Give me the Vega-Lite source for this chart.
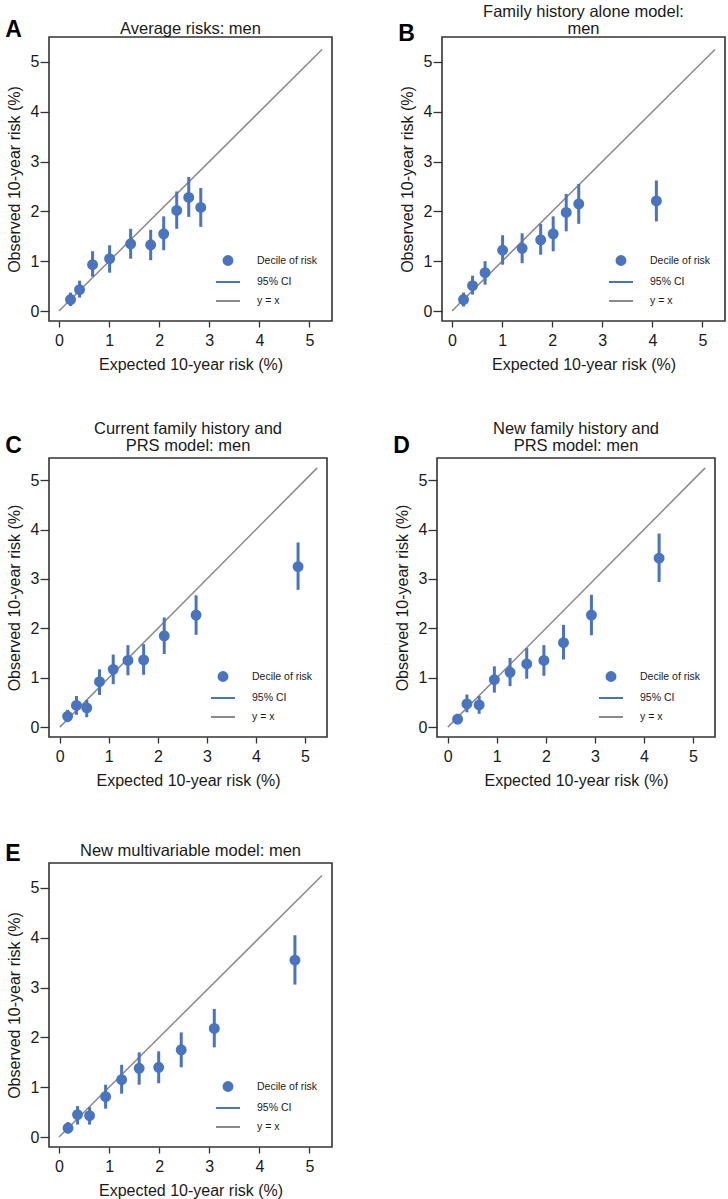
{
  "$schema": "https://vega.github.io/schema/vega-lite/v6.json",
  "padding": {"left": 5, "top": 2, "right": 0, "bottom": 0},
  "background": "white",
  "config": {
    "font": "Liberation Sans",
    "view": {"stroke": "#333333", "strokeWidth": 1.6},
    "title": {"fontSize": 16.5, "fontWeight": "normal", "color": "#1a1a1a", "offset": 4, "lineHeight": 17},
    "axis": {"labelFontSize": 16, "titleFontSize": 16, "labelColor": "#1a1a1a", "titleColor": "#1a1a1a", "titleFontWeight": "normal", "tickColor": "#333333", "tickWidth": 1.3, "domain": false, "grid": false, "format": "d"},
    "axisY": {"labelAngle": 0, "tickSize": 9, "labelPadding": 1, "titlePadding": 8},
    "axisX": {"tickSize": 6, "labelPadding": 5, "titlePadding": 8},
    "legend": {"orient": "bottom-right", "title": null, "labelFontSize": 10.5, "labelColor": "#1a1a1a", "symbolStrokeWidth": 2, "rowPadding": -3, "labelOffset": 16, "padding": 0, "offset": 14}
  },
  "datasets": {
    "deciles": [
      {"panel": "A", "expected": 0.23, "observed": 0.23, "lo": 0.10, "hi": 0.37},
      {"panel": "A", "expected": 0.41, "observed": 0.43, "lo": 0.27, "hi": 0.61},
      {"panel": "A", "expected": 0.67, "observed": 0.93, "lo": 0.69, "hi": 1.20},
      {"panel": "A", "expected": 1.01, "observed": 1.05, "lo": 0.77, "hi": 1.32},
      {"panel": "A", "expected": 1.43, "observed": 1.35, "lo": 1.05, "hi": 1.65},
      {"panel": "A", "expected": 1.83, "observed": 1.33, "lo": 1.02, "hi": 1.63},
      {"panel": "A", "expected": 2.09, "observed": 1.55, "lo": 1.22, "hi": 1.90},
      {"panel": "A", "expected": 2.35, "observed": 2.02, "lo": 1.65, "hi": 2.40},
      {"panel": "A", "expected": 2.59, "observed": 2.28, "lo": 1.89, "hi": 2.69},
      {"panel": "A", "expected": 2.83, "observed": 2.08, "lo": 1.69, "hi": 2.47},
      {"panel": "B", "expected": 0.23, "observed": 0.23, "lo": 0.09, "hi": 0.37},
      {"panel": "B", "expected": 0.41, "observed": 0.51, "lo": 0.33, "hi": 0.71},
      {"panel": "B", "expected": 0.66, "observed": 0.77, "lo": 0.53, "hi": 1.00},
      {"panel": "B", "expected": 1.01, "observed": 1.22, "lo": 0.93, "hi": 1.52},
      {"panel": "B", "expected": 1.40, "observed": 1.26, "lo": 0.96, "hi": 1.56},
      {"panel": "B", "expected": 1.77, "observed": 1.43, "lo": 1.13, "hi": 1.75},
      {"panel": "B", "expected": 2.02, "observed": 1.55, "lo": 1.20, "hi": 1.90},
      {"panel": "B", "expected": 2.28, "observed": 1.98, "lo": 1.60, "hi": 2.35},
      {"panel": "B", "expected": 2.53, "observed": 2.15, "lo": 1.75, "hi": 2.55},
      {"panel": "B", "expected": 4.08, "observed": 2.21, "lo": 1.80, "hi": 2.62},
      {"panel": "C", "expected": 0.16, "observed": 0.22, "lo": 0.10, "hi": 0.35},
      {"panel": "C", "expected": 0.34, "observed": 0.44, "lo": 0.25, "hi": 0.63},
      {"panel": "C", "expected": 0.55, "observed": 0.39, "lo": 0.20, "hi": 0.55},
      {"panel": "C", "expected": 0.81, "observed": 0.92, "lo": 0.65, "hi": 1.17},
      {"panel": "C", "expected": 1.09, "observed": 1.17, "lo": 0.87, "hi": 1.47},
      {"panel": "C", "expected": 1.39, "observed": 1.35, "lo": 1.05, "hi": 1.66},
      {"panel": "C", "expected": 1.71, "observed": 1.36, "lo": 1.06, "hi": 1.68},
      {"panel": "C", "expected": 2.13, "observed": 1.85, "lo": 1.48, "hi": 2.22},
      {"panel": "C", "expected": 2.78, "observed": 2.27, "lo": 1.87, "hi": 2.67},
      {"panel": "C", "expected": 4.86, "observed": 3.25, "lo": 2.78, "hi": 3.74},
      {"panel": "D", "expected": 0.20, "observed": 0.16, "lo": 0.07, "hi": 0.27},
      {"panel": "D", "expected": 0.39, "observed": 0.47, "lo": 0.30, "hi": 0.66},
      {"panel": "D", "expected": 0.64, "observed": 0.45, "lo": 0.27, "hi": 0.63},
      {"panel": "D", "expected": 0.95, "observed": 0.96, "lo": 0.70, "hi": 1.23},
      {"panel": "D", "expected": 1.27, "observed": 1.11, "lo": 0.83, "hi": 1.40},
      {"panel": "D", "expected": 1.61, "observed": 1.28, "lo": 0.98, "hi": 1.60},
      {"panel": "D", "expected": 1.96, "observed": 1.35, "lo": 1.04, "hi": 1.66},
      {"panel": "D", "expected": 2.36, "observed": 1.71, "lo": 1.37, "hi": 2.07},
      {"panel": "D", "expected": 2.93, "observed": 2.27, "lo": 1.86, "hi": 2.68},
      {"panel": "D", "expected": 4.31, "observed": 3.42, "lo": 2.94, "hi": 3.92},
      {"panel": "E", "expected": 0.18, "observed": 0.18, "lo": 0.07, "hi": 0.30},
      {"panel": "E", "expected": 0.37, "observed": 0.45, "lo": 0.25, "hi": 0.62},
      {"panel": "E", "expected": 0.61, "observed": 0.43, "lo": 0.25, "hi": 0.60},
      {"panel": "E", "expected": 0.93, "observed": 0.81, "lo": 0.57, "hi": 1.05},
      {"panel": "E", "expected": 1.25, "observed": 1.15, "lo": 0.87, "hi": 1.45},
      {"panel": "E", "expected": 1.60, "observed": 1.38, "lo": 1.05, "hi": 1.70},
      {"panel": "E", "expected": 1.99, "observed": 1.40, "lo": 1.08, "hi": 1.72},
      {"panel": "E", "expected": 2.44, "observed": 1.75, "lo": 1.40, "hi": 2.10},
      {"panel": "E", "expected": 3.10, "observed": 2.18, "lo": 1.80, "hi": 2.57},
      {"panel": "E", "expected": 4.71, "observed": 3.55, "lo": 3.06, "hi": 4.05}
    ],
    "diagonal": [{"v": 0}, {"v": 5.25}]
  },
  "resolve": {"scale": {"fill": "independent", "stroke": "independent", "shape": "independent", "size": "independent"}, "legend": {"fill": "independent", "stroke": "independent", "shape": "independent", "size": "independent"}},
  "spacing": 46,
  "vconcat": [
    {
      "resolve": {"scale": {"fill": "independent", "stroke": "independent", "shape": "independent", "size": "independent"}, "legend": {"fill": "independent", "stroke": "independent", "shape": "independent", "size": "independent"}},
      "spacing": 65,
      "hconcat": [
        {
          "title": {"text": "A", "anchor": "start", "frame": "bounds", "fontSize": 23, "fontWeight": "bold", "color": "#000000", "baseline": "bottom", "offset": 0, "dy": 45},
          "resolve": {"scale": {"fill": "independent", "stroke": "independent", "shape": "independent", "size": "independent"}, "legend": {"fill": "independent", "stroke": "independent", "shape": "independent", "size": "independent"}},
          "vconcat": [
            {
              "title": {"text": "Average risks: men", "offset": 0},
              "width": 283, "height": 284,
              "layer": [
                {"data": {"name": "diagonal"}, "mark": {"type": "line", "color": "#8a8a8a", "strokeWidth": 1.5},
                 "encoding": {"x": {"field": "v", "type": "quantitative"}, "y": {"field": "v", "type": "quantitative"}}},
                {"data": {"name": "deciles"}, "transform": [{"filter": "datum.panel === 'A'"}],
                 "mark": {"type": "rule", "color": "#4874c0", "strokeWidth": 3},
                 "encoding": {
                   "x": {"field": "expected", "type": "quantitative", "scale": {"domain": [-0.2, 5.45], "nice": false, "zero": false}, "axis": {"values": [0, 1, 2, 3, 4, 5], "title": "Expected 10-year risk (%)"}},
                   "y": {"field": "lo", "type": "quantitative", "scale": {"domain": [-0.2, 5.5], "nice": false, "zero": false}, "axis": {"values": [0, 1, 2, 3, 4, 5], "title": "Observed 10-year risk (%)"}},
                   "y2": {"field": "hi"}}},
                {"data": {"name": "deciles"}, "transform": [{"filter": "datum.panel === 'A'"}],
                 "mark": {"type": "point", "filled": true, "opacity": 1, "strokeWidth": 2},
                 "encoding": {
                   "x": {"field": "expected", "type": "quantitative"},
                   "y": {"field": "observed", "type": "quantitative"},
                   "fill": {"datum": "Decile of risk", "type": "nominal", "scale": {"domain": ["Decile of risk", "95% CI", "y = x"], "range": ["#4874c0", "transparent", "transparent"]}},
                   "stroke": {"datum": "Decile of risk", "type": "nominal", "scale": {"domain": ["Decile of risk", "95% CI", "y = x"], "range": ["#4874c0", "#4874c0", "#8a8a8a"]}},
                   "shape": {"datum": "Decile of risk", "type": "nominal", "scale": {"domain": ["Decile of risk", "95% CI", "y = x"], "range": ["circle", "stroke", "stroke"]}},
                   "size": {"datum": "Decile of risk", "type": "nominal", "scale": {"type": "ordinal", "domain": ["Decile of risk", "95% CI", "y = x"], "range": [80, 576, 576]}}}}
              ]
            }
          ]
        },
        {
          "title": {"text": "B", "anchor": "start", "frame": "bounds", "fontSize": 23, "fontWeight": "bold", "color": "#000000", "baseline": "bottom", "offset": 0, "dy": 66},
          "resolve": {"scale": {"fill": "independent", "stroke": "independent", "shape": "independent", "size": "independent"}, "legend": {"fill": "independent", "stroke": "independent", "shape": "independent", "size": "independent"}},
          "vconcat": [
            {
              "title": {"text": ["Family history alone model:", "men"], "offset": 0},
              "width": 283, "height": 284,
              "layer": [
                {"data": {"name": "diagonal"}, "mark": {"type": "line", "color": "#8a8a8a", "strokeWidth": 1.5},
                 "encoding": {"x": {"field": "v", "type": "quantitative"}, "y": {"field": "v", "type": "quantitative"}}},
                {"data": {"name": "deciles"}, "transform": [{"filter": "datum.panel === 'B'"}],
                 "mark": {"type": "rule", "color": "#4874c0", "strokeWidth": 3},
                 "encoding": {
                   "x": {"field": "expected", "type": "quantitative", "scale": {"domain": [-0.2, 5.45], "nice": false, "zero": false}, "axis": {"values": [0, 1, 2, 3, 4, 5], "title": "Expected 10-year risk (%)"}},
                   "y": {"field": "lo", "type": "quantitative", "scale": {"domain": [-0.2, 5.5], "nice": false, "zero": false}, "axis": {"values": [0, 1, 2, 3, 4, 5], "title": "Observed 10-year risk (%)"}},
                   "y2": {"field": "hi"}}},
                {"data": {"name": "deciles"}, "transform": [{"filter": "datum.panel === 'B'"}],
                 "mark": {"type": "point", "filled": true, "opacity": 1, "strokeWidth": 2},
                 "encoding": {
                   "x": {"field": "expected", "type": "quantitative"},
                   "y": {"field": "observed", "type": "quantitative"},
                   "fill": {"datum": "Decile of risk", "type": "nominal", "scale": {"domain": ["Decile of risk", "95% CI", "y = x"], "range": ["#4874c0", "transparent", "transparent"]}},
                   "stroke": {"datum": "Decile of risk", "type": "nominal", "scale": {"domain": ["Decile of risk", "95% CI", "y = x"], "range": ["#4874c0", "#4874c0", "#8a8a8a"]}},
                   "shape": {"datum": "Decile of risk", "type": "nominal", "scale": {"domain": ["Decile of risk", "95% CI", "y = x"], "range": ["circle", "stroke", "stroke"]}},
                   "size": {"datum": "Decile of risk", "type": "nominal", "scale": {"type": "ordinal", "domain": ["Decile of risk", "95% CI", "y = x"], "range": [80, 576, 576]}}}}
              ]
            }
          ]
        }
      ]
    },
    {
      "resolve": {"scale": {"fill": "independent", "stroke": "independent", "shape": "independent", "size": "independent"}, "legend": {"fill": "independent", "stroke": "independent", "shape": "independent", "size": "independent"}},
      "spacing": 52,
      "vconcat": [
        {
          "resolve": {"scale": {"fill": "independent", "stroke": "independent", "shape": "independent", "size": "independent"}, "legend": {"fill": "independent", "stroke": "independent", "shape": "independent", "size": "independent"}},
          "spacing": 65,
          "hconcat": [
            {
              "title": {"text": "C", "anchor": "start", "frame": "bounds", "fontSize": 23, "fontWeight": "bold", "color": "#000000", "baseline": "bottom", "offset": 0, "dy": 61},
              "resolve": {"scale": {"fill": "independent", "stroke": "independent", "shape": "independent", "size": "independent"}, "legend": {"fill": "independent", "stroke": "independent", "shape": "independent", "size": "independent"}},
              "vconcat": [
                {
                  "title": {"text": ["Current family history and", "PRS model: men"]},
                  "width": 278, "height": 279,
                  "layer": [
                    {"data": {"name": "diagonal"}, "mark": {"type": "line", "color": "#8a8a8a", "strokeWidth": 1.5},
                     "encoding": {"x": {"field": "v", "type": "quantitative"}, "y": {"field": "v", "type": "quantitative"}}},
                    {"data": {"name": "deciles"}, "transform": [{"filter": "datum.panel === 'C'"}],
                     "mark": {"type": "rule", "color": "#4874c0", "strokeWidth": 3},
                     "encoding": {
                       "x": {"field": "expected", "type": "quantitative", "scale": {"domain": [-0.22, 5.45], "nice": false, "zero": false}, "axis": {"values": [0, 1, 2, 3, 4, 5], "title": "Expected 10-year risk (%)"}},
                       "y": {"field": "lo", "type": "quantitative", "scale": {"domain": [-0.2, 5.45], "nice": false, "zero": false}, "axis": {"values": [0, 1, 2, 3, 4, 5], "title": "Observed 10-year risk (%)"}},
                       "y2": {"field": "hi"}}},
                    {"data": {"name": "deciles"}, "transform": [{"filter": "datum.panel === 'C'"}],
                     "mark": {"type": "point", "filled": true, "opacity": 1, "strokeWidth": 2},
                     "encoding": {
                       "x": {"field": "expected", "type": "quantitative"},
                       "y": {"field": "observed", "type": "quantitative"},
                       "fill": {"datum": "Decile of risk", "type": "nominal", "scale": {"domain": ["Decile of risk", "95% CI", "y = x"], "range": ["#4874c0", "transparent", "transparent"]}},
                       "stroke": {"datum": "Decile of risk", "type": "nominal", "scale": {"domain": ["Decile of risk", "95% CI", "y = x"], "range": ["#4874c0", "#4874c0", "#8a8a8a"]}},
                       "shape": {"datum": "Decile of risk", "type": "nominal", "scale": {"domain": ["Decile of risk", "95% CI", "y = x"], "range": ["circle", "stroke", "stroke"]}},
                       "size": {"datum": "Decile of risk", "type": "nominal", "scale": {"type": "ordinal", "domain": ["Decile of risk", "95% CI", "y = x"], "range": [80, 576, 576]}}}}
                  ]
                }
              ]
            },
            {
              "title": {"text": "D", "anchor": "start", "frame": "bounds", "fontSize": 23, "fontWeight": "bold", "color": "#000000", "baseline": "bottom", "offset": 0, "dy": 61},
              "resolve": {"scale": {"fill": "independent", "stroke": "independent", "shape": "independent", "size": "independent"}, "legend": {"fill": "independent", "stroke": "independent", "shape": "independent", "size": "independent"}},
              "vconcat": [
                {
                  "title": {"text": ["New family history and", "PRS model: men"]},
                  "width": 278, "height": 279,
                  "layer": [
                    {"data": {"name": "diagonal"}, "mark": {"type": "line", "color": "#8a8a8a", "strokeWidth": 1.5},
                     "encoding": {"x": {"field": "v", "type": "quantitative"}, "y": {"field": "v", "type": "quantitative"}}},
                    {"data": {"name": "deciles"}, "transform": [{"filter": "datum.panel === 'D'"}],
                     "mark": {"type": "rule", "color": "#4874c0", "strokeWidth": 3},
                     "encoding": {
                       "x": {"field": "expected", "type": "quantitative", "scale": {"domain": [-0.22, 5.45], "nice": false, "zero": false}, "axis": {"values": [0, 1, 2, 3, 4, 5], "title": "Expected 10-year risk (%)"}},
                       "y": {"field": "lo", "type": "quantitative", "scale": {"domain": [-0.2, 5.45], "nice": false, "zero": false}, "axis": {"values": [0, 1, 2, 3, 4, 5], "title": "Observed 10-year risk (%)"}},
                       "y2": {"field": "hi"}}},
                    {"data": {"name": "deciles"}, "transform": [{"filter": "datum.panel === 'D'"}],
                     "mark": {"type": "point", "filled": true, "opacity": 1, "strokeWidth": 2},
                     "encoding": {
                       "x": {"field": "expected", "type": "quantitative"},
                       "y": {"field": "observed", "type": "quantitative"},
                       "fill": {"datum": "Decile of risk", "type": "nominal", "scale": {"domain": ["Decile of risk", "95% CI", "y = x"], "range": ["#4874c0", "transparent", "transparent"]}},
                       "stroke": {"datum": "Decile of risk", "type": "nominal", "scale": {"domain": ["Decile of risk", "95% CI", "y = x"], "range": ["#4874c0", "#4874c0", "#8a8a8a"]}},
                       "shape": {"datum": "Decile of risk", "type": "nominal", "scale": {"domain": ["Decile of risk", "95% CI", "y = x"], "range": ["circle", "stroke", "stroke"]}},
                       "size": {"datum": "Decile of risk", "type": "nominal", "scale": {"type": "ordinal", "domain": ["Decile of risk", "95% CI", "y = x"], "range": [80, 576, 576]}}}}
                  ]
                }
              ]
            }
          ]
        },
        {
          "resolve": {"scale": {"fill": "independent", "stroke": "independent", "shape": "independent", "size": "independent"}, "legend": {"fill": "independent", "stroke": "independent", "shape": "independent", "size": "independent"}},
          "hconcat": [
            {
              "title": {"text": "E", "anchor": "start", "frame": "bounds", "fontSize": 23, "fontWeight": "bold", "color": "#000000", "baseline": "bottom", "offset": 0, "dy": 47},
              "resolve": {"scale": {"fill": "independent", "stroke": "independent", "shape": "independent", "size": "independent"}, "legend": {"fill": "independent", "stroke": "independent", "shape": "independent", "size": "independent"}},
              "vconcat": [
                {
                  "title": {"text": "New multivariable model: men"},
                  "width": 283, "height": 284,
                  "layer": [
                    {"data": {"name": "diagonal"}, "mark": {"type": "line", "color": "#8a8a8a", "strokeWidth": 1.5},
                     "encoding": {"x": {"field": "v", "type": "quantitative"}, "y": {"field": "v", "type": "quantitative"}}},
                    {"data": {"name": "deciles"}, "transform": [{"filter": "datum.panel === 'E'"}],
                     "mark": {"type": "rule", "color": "#4874c0", "strokeWidth": 3},
                     "encoding": {
                       "x": {"field": "expected", "type": "quantitative", "scale": {"domain": [-0.2, 5.45], "nice": false, "zero": false}, "axis": {"values": [0, 1, 2, 3, 4, 5], "title": "Expected 10-year risk (%)"}},
                       "y": {"field": "lo", "type": "quantitative", "scale": {"domain": [-0.2, 5.5], "nice": false, "zero": false}, "axis": {"values": [0, 1, 2, 3, 4, 5], "title": "Observed 10-year risk (%)"}},
                       "y2": {"field": "hi"}}},
                    {"data": {"name": "deciles"}, "transform": [{"filter": "datum.panel === 'E'"}],
                     "mark": {"type": "point", "filled": true, "opacity": 1, "strokeWidth": 2},
                     "encoding": {
                       "x": {"field": "expected", "type": "quantitative"},
                       "y": {"field": "observed", "type": "quantitative"},
                       "fill": {"datum": "Decile of risk", "type": "nominal", "scale": {"domain": ["Decile of risk", "95% CI", "y = x"], "range": ["#4874c0", "transparent", "transparent"]}},
                       "stroke": {"datum": "Decile of risk", "type": "nominal", "scale": {"domain": ["Decile of risk", "95% CI", "y = x"], "range": ["#4874c0", "#4874c0", "#8a8a8a"]}},
                       "shape": {"datum": "Decile of risk", "type": "nominal", "scale": {"domain": ["Decile of risk", "95% CI", "y = x"], "range": ["circle", "stroke", "stroke"]}},
                       "size": {"datum": "Decile of risk", "type": "nominal", "scale": {"type": "ordinal", "domain": ["Decile of risk", "95% CI", "y = x"], "range": [80, 576, 576]}}}}
                  ]
                }
              ]
            }
          ]
        }
      ]
    }
  ]
}
